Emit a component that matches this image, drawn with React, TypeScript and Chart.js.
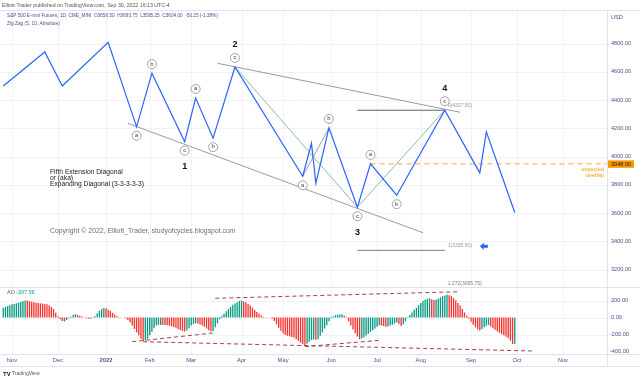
import React, { useEffect, useRef } from 'react';
import { Chart, registerables } from 'chart.js';

Chart.register(...registerables);

// ---------------- data ----------------
const MONTH_LABELS = ['Nov', 'Dec', '2022', 'Feb', 'Mar', 'Apr', 'May', 'Jun', 'Jul', 'Aug', 'Sep', 'Oct', 'Nov'];
const MONTH_BARS = [0, 21, 43, 63, 82, 105, 124, 146, 167, 187, 210, 231, 252];

const PRICE_TICKS = [4800, 4600, 4400, 4200, 4000, 3800, 3600, 3400, 3200];
const AO_TICKS = [200, 0, -200, -400];

// Zig Zag pivots (bar index since 1 Nov 2021, price)
const ZZ_BARS = [-4, 15, 23, 44, 57, 64, 79, 84, 92, 102, 133, 137, 139, 145, 158, 164, 176, 198, 214, 217, 230];
const ZZ_PRICES = [4499, 4740, 4499, 4808, 4210, 4590, 4105, 4414, 4130, 4634, 3860, 4094, 3810, 4203, 3641, 3948, 3726, 4327.5, 3884, 4174, 3604];
const ZZ_LETTERS = ['', '', '', '', 'a', 'b', 'c', 'a', 'b', 'c', 'a', '', '', 'b', 'c', 'a', 'b', 'c', '', '', ''];
const ZZ_WAVES = ['', '', '', '', '', '', '1', '', '', '2', '', '', '', '', '3', '', '', '4', '', '', ''];

// trend lines [bar, price]
const UPPER_LINE_BARS = [94, 205];
const UPPER_LINE_PRICES = [4660, 4313];
const LOWER_LINE_BARS = [53, 188];
const LOWER_LINE_PRICES = [4235, 3460];
const GREEN_BARS = [102, 158, 198];
const GREEN_PRICES = [4634, 3641, 4327.5];
const GRAY_AB_BARS = [133, 145];
const GRAY_AB_PRICES = [3860, 4203];

// Fib extension
const FIB_BARS = [158, 198];
const FIB_RATIOS = ['0', '1', '1.272'];
const FIB_PRICES = [4327.5, 3335.5, 3065.75];

const OVERLAP_LEVEL = 3948;
const OVERLAP_START_BAR = 164;

// Awesome Oscillator
const AO_START = -4;
const AO_VALUES = [
  115, 125, 135, 145, 155, 160, 168, 175, 182, 192, 200,
  196, 191, 185, 180, 174, 170, 167, 164, 160, 156,
  145, 125, 100, 55, 15, -20, -40, -47, -30, -10, 10, 28, 39,
  33, 22, 12, 2, -8, -13, -16, -5, 15, 50, 80, 100, 112,
  108, 95, 78, 55, 35, 15, 3, 4, 1,
  -8, -30, -55, -95, -135, -175, -210, -250, -275,
  -268, -250, -210, -170, -125, -95, -86,
  -88, -86, -88, -92, -97, -104, -112, -122, -134, -148, -160, -166,
  -150, -125, -95, -75, -67,
  -72, -82, -95, -110, -130, -150, -166,
  -160, -115, -70, -20, 20, 45, 75, 100, 125, 150, 165, 180, 195, 200,
  190, 178, 160, 140, 115, 90, 65, 45, 25, 8, 3, 2, 0,
  -15, -45, -80, -120, -155, -185, -205, -215, -222, -228, -235, -255, -275, -295, -315, -333,
  -310, -285, -265, -258, -262, -255, -215, -175, -130, -90, -45, -10, 15, 28, 33, 36, 38,
  22, -5, -45, -95, -140, -185, -225, -255,
  -248, -232, -212, -190, -170, -150, -130, -110, -92,
  -95, -100, -108, -105, -95, -85, -70, -60, -75, -100,
  -80, -45, -5, 30, 60, 90, 115, 145, 170, 195, 210, 222, 226,
  215, 205, 210, 225, 238, 250, 258, 267,
  262, 250, 228, 200, 170, 140, 100, 60, 20, -15, -50, -85, -115, -138, -153,
  -135, -115, -98, -90,
  -105, -125, -145, -165, -180, -195, -210, -225, -240, -270, -312, -307.56,
];

// AO divergence lines [bar, value]
const AO_LINES = [
  { bars: [55, 92], values: [-285, -182] },
  { bars: [60, 238], values: [-285, -394] },
  { bars: [134, 168], values: [-343, -268] },
  { bars: [93, 204], values: [226, 303] },
];

// ---------------- view constants ----------------
const X_MIN = -5.49;
const X_MAX = 272.19;
const P_MIN = 2601.8;
const P_MAX = 5030.1;
const AO_MIN = -429.4;
const AO_MAX = 3605.9;
const PANEL_SPLIT = 287;

const FONT = '"Liberation Sans", Arial, sans-serif';
const AXIS_COLOR = '#4a5090';
const GRID = '#f0f2f6';
const BORDER = '#e0e3eb';
const AO_GREEN = '#089981';
const AO_RED = '#f7302b';

function pts(bars: number[], vals: number[]) {
  return bars.map((b, i) => ({ x: b, y: vals[i] }));
}

function fitSize(ctx: CanvasRenderingContext2D, text: string, width: number, weight: string) {
  ctx.font = `${weight} 10px ${FONT}`;
  return (10 * width) / ctx.measureText(text).width;
}

function fitText(ctx: CanvasRenderingContext2D, text: string, x: number, y: number, width: number, weight: string, color: string) {
  const size = fitSize(ctx, text, width, weight);
  ctx.font = `${weight} ${size}px ${FONT}`;
  ctx.fillStyle = color;
  ctx.textAlign = 'left';
  ctx.textBaseline = 'middle';
  ctx.fillText(text, x, y);
}

const overlay = {
  id: 'overlay',
  beforeDraw(chart: any) {
    const { ctx } = chart;
    ctx.save();
    ctx.fillStyle = '#ffffff';
    ctx.fillRect(0, 0, chart.width, chart.height);
    ctx.restore();
  },
  beforeDatasetsDraw(chart: any) {
    const { ctx, chartArea, scales } = chart;
    const x = scales.x, y = scales.y, yAo = scales.yAo;
    ctx.save();
    ctx.lineWidth = 1;
    ctx.strokeStyle = GRID;
    MONTH_BARS.forEach((b) => {
      const px = Math.round(x.getPixelForValue(b)) + 0.5;
      ctx.beginPath();
      ctx.moveTo(px, chartArea.top);
      ctx.lineTo(px, chartArea.bottom);
      ctx.stroke();
    });
    PRICE_TICKS.forEach((p) => {
      const py = Math.round(y.getPixelForValue(p)) + 0.5;
      ctx.beginPath();
      ctx.moveTo(chartArea.left, py);
      ctx.lineTo(chartArea.right, py);
      ctx.stroke();
    });
    AO_TICKS.slice(0, 3).forEach((v) => {
      const py = Math.round(yAo.getPixelForValue(v)) + 0.5;
      ctx.beginPath();
      ctx.moveTo(chartArea.left, py);
      ctx.lineTo(chartArea.right, py);
      ctx.stroke();
    });
    ctx.restore();
  },
  afterDatasetsDraw(chart: any) {
    const { ctx, chartArea, scales } = chart;
    const x = scales.x, y = scales.y, yAo = scales.yAo;
    ctx.save();

    // frame / separators
    ctx.strokeStyle = BORDER;
    ctx.lineWidth = 1;
    const hline = (py: number, x0: number, x1: number) => {
      ctx.beginPath();
      ctx.moveTo(x0, py + 0.5);
      ctx.lineTo(x1, py + 0.5);
      ctx.stroke();
    };
    hline(chartArea.top - 1, 0, 640);
    hline(PANEL_SPLIT, 0, 640);
    hline(chartArea.bottom, 0, 640);
    hline(366, 0, 640);
    ctx.beginPath();
    ctx.moveTo(chartArea.right + 0.5, chartArea.top - 1);
    ctx.lineTo(chartArea.right + 0.5, 366);
    ctx.stroke();

    // fib labels
    ctx.font = `5px ${FONT}`;
    ctx.textAlign = 'left';
    ctx.textBaseline = 'middle';
    FIB_PRICES.forEach((p, i) => {
      ctx.fillStyle = i === 2 ? '#6f8f74' : '#9598a1';
      ctx.fillText(`${FIB_RATIOS[i]}(${p.toFixed(2)})`, x.getPixelForValue(FIB_BARS[1]) + 3, y.getPixelForValue(p) - 4.5);
    });

    // blue arrow next to the 1 level
    {
      const ax = x.getPixelForValue(FIB_BARS[1]) + 35;
      const ay = y.getPixelForValue(FIB_PRICES[1]) - 4;
      ctx.fillStyle = '#2962ff';
      ctx.beginPath();
      ctx.moveTo(ax, ay);
      ctx.lineTo(ax + 4, ay - 3.5);
      ctx.lineTo(ax + 4, ay - 1.5);
      ctx.lineTo(ax + 8, ay - 1.5);
      ctx.lineTo(ax + 8, ay + 1.5);
      ctx.lineTo(ax + 4, ay + 1.5);
      ctx.lineTo(ax + 4, ay + 3.5);
      ctx.closePath();
      ctx.fill();
    }

    // circled wave letters and wave numbers
    ZZ_BARS.forEach((b, i) => {
      const prev = ZZ_PRICES[i - 1] ?? ZZ_PRICES[i + 1];
      const isHigh = ZZ_PRICES[i] > prev;
      const px = x.getPixelForValue(b);
      const py = y.getPixelForValue(ZZ_PRICES[i]);
      if (ZZ_LETTERS[i]) {
        const cy = py + (isHigh ? -9 : 9);
        ctx.beginPath();
        ctx.arc(px, cy, 4.5, 0, Math.PI * 2);
        ctx.fillStyle = '#ffffff';
        ctx.fill();
        ctx.strokeStyle = '#8a8d96';
        ctx.lineWidth = 0.8;
        ctx.stroke();
        ctx.fillStyle = '#444';
        ctx.font = `6px ${FONT}`;
        ctx.textAlign = 'center';
        ctx.textBaseline = 'middle';
        ctx.fillText(ZZ_LETTERS[i], px, cy - 0.3);
      }
      if (ZZ_WAVES[i]) {
        ctx.fillStyle = '#111';
        ctx.font = `bold 9px ${FONT}`;
        ctx.textAlign = 'center';
        ctx.textBaseline = 'middle';
        ctx.fillText(ZZ_WAVES[i], px, py + (isHigh ? -22 : 25));
      }
    });

    // expected overlap
    const oy = y.getPixelForValue(OVERLAP_LEVEL);
    ctx.fillStyle = '#ff9800';
    ctx.font = `5.5px ${FONT}`;
    ctx.textAlign = 'right';
    ctx.textBaseline = 'middle';
    ctx.fillText('expected', chartArea.right - 3, oy + 6);
    ctx.fillText('overlap', chartArea.right - 3, oy + 12);

    // annotations
    const noteSize = fitSize(ctx, 'Expanding Diagonal (3-3-3-3-3)', 94, 'normal');
    ctx.font = `${noteSize}px ${FONT}`;
    ctx.fillStyle = '#1a1a1a';
    ctx.textAlign = 'left';
    ctx.textBaseline = 'middle';
    ctx.fillText('Fifth Extension Diagonal', 50, 172);
    ctx.fillText('or (aka)', 50, 178.2);
    ctx.fillText('Expanding Diagonal (3-3-3-3-3)', 50, 184.4);
    fitText(ctx, 'Copyright © 2022, Elliott_Trader, studyofcycles.blogspot.com', 50, 231, 186, 'normal', '#6d6f78');

    // header / legends
    fitText(ctx, 'Elliott-Trader published on TradingView.com, Sep 30, 2022 16:13 UTC-4', 2, 5.5, 168, 'normal', '#555');
    fitText(ctx, 'S&P 500 E-mini Futures, 1D, CME_MINI  O3656.50  H3693.75  L3595.25  C3604.00  -50.25 (-1.38%)', 7, 16, 211, 'normal', '#4a5090');
    fitText(ctx, 'Zig Zag (5, 10, Absolute)', 7, 24, 53, 'normal', '#4a5090');

    ctx.font = `5.5px ${FONT}`;
    ctx.textAlign = 'left';
    ctx.fillStyle = '#4a5090';
    ctx.fillText('AO', 7, 292.5);
    ctx.fillStyle = AO_GREEN;
    ctx.fillText(AO_VALUES[AO_VALUES.length - 1].toFixed(2), 16, 292.5);

    // right axis
    ctx.font = `5.6px ${FONT}`;
    ctx.fillStyle = AXIS_COLOR;
    ctx.textAlign = 'left';
    ctx.textBaseline = 'middle';
    ctx.fillText('USD', 611, 17);
    PRICE_TICKS.forEach((p) => ctx.fillText(p.toFixed(2), 611, y.getPixelForValue(p)));
    AO_TICKS.forEach((v) => ctx.fillText(v.toFixed(2), v < 0 ? 610 : 611, yAo.getPixelForValue(v)));

    // orange price tag
    ctx.fillStyle = '#ff9800';
    ctx.fillRect(chartArea.right + 1, oy - 3.5, 26, 7.5);
    ctx.fillStyle = '#1a1a1a';
    ctx.fillText(OVERLAP_LEVEL.toFixed(2), 611, oy + 0.3);

    // time axis
    ctx.textAlign = 'center';
    MONTH_BARS.forEach((b, i) => {
      ctx.font = MONTH_LABELS[i] === '2022' ? `bold 5.8px ${FONT}` : `5.8px ${FONT}`;
      ctx.fillStyle = AXIS_COLOR;
      ctx.fillText(MONTH_LABELS[i], x.getPixelForValue(b), 360);
    });

    // TradingView mark
    ctx.textAlign = 'left';
    ctx.fillStyle = '#131722';
    ctx.font = `bold 6px ${FONT}`;
    ctx.fillText('TV', 3, 374);
    ctx.fillStyle = '#555';
    ctx.font = `5px ${FONT}`;
    ctx.fillText('TradingView', 12, 374);

    ctx.restore();
  },
};

export default function App() {
  const ref = useRef<HTMLCanvasElement>(null);

  useEffect(() => {
    const canvas = ref.current;
    if (!canvas) return;

    const line = (data: any[], color: string, width = 1, extra: any = {}) => ({
      type: 'line',
      data,
      borderColor: color,
      borderWidth: width,
      pointRadius: 0,
      fill: false,
      tension: 0,
      xAxisID: 'x',
      yAxisID: 'y',
      ...extra,
    });

    const datasets: any[] = [
      {
        type: 'bar',
        data: AO_VALUES.map((v, k) => ({ x: AO_START + k, y: v })),
        xAxisID: 'x',
        yAxisID: 'yAo',
        backgroundColor: AO_VALUES.map((v, k) => (k === 0 || v >= AO_VALUES[k - 1] ? AO_GREEN : AO_RED)),
        barPercentage: 0.6,
        categoryPercentage: 1,
        order: 20,
      },
      ...AO_LINES.map((l) =>
        line(pts(l.bars, l.values), '#a3404c', 1, { yAxisID: 'yAo', borderDash: [4, 3], order: 15 })
      ),
      line(pts(UPPER_LINE_BARS, UPPER_LINE_PRICES), '#9a9ca5', 1, { order: 10 }),
      line(pts(LOWER_LINE_BARS, LOWER_LINE_PRICES), '#9a9ca5', 1, { order: 10 }),
      line(pts(GREEN_BARS, GREEN_PRICES), '#8cbf9a', 1, { order: 9 }),
      line(pts(GRAY_AB_BARS, GRAY_AB_PRICES), '#9e9e9e', 1, { order: 9 }),
      line(pts(FIB_BARS, [FIB_PRICES[0], FIB_PRICES[0]]), '#5d606b', 1, { order: 8 }),
      line(pts(FIB_BARS, [FIB_PRICES[1], FIB_PRICES[1]]), '#7c7f88', 1, { order: 8 }),
      line(pts([OVERLAP_START_BAR, X_MAX], [OVERLAP_LEVEL, OVERLAP_LEVEL]), '#ffa640', 1, { borderDash: [5, 4], order: 7 }),
      line(pts(ZZ_BARS, ZZ_PRICES), '#2962ff', 1.2, { order: 1 }),
    ];

    const chart = new Chart(canvas, {
      type: 'bar',
      data: { datasets },
      options: {
        animation: false,
        responsive: false,
        devicePixelRatio: 1,
        layout: { padding: { left: 0, right: 33, top: 11, bottom: 27 } },
        plugins: { legend: { display: false }, tooltip: { enabled: false } },
        scales: {
          x: { type: 'linear', min: X_MIN, max: X_MAX, offset: false, display: false, grid: { offset: false } },
          y: { type: 'linear', min: P_MIN, max: P_MAX, display: false },
          yAo: { type: 'linear', min: AO_MIN, max: AO_MAX, display: false },
        },
      } as any,
      plugins: [overlay],
    } as any);

    return () => chart.destroy();
  }, []);

  return (
    <div style={{ position: 'absolute', left: 0, top: 0, width: 640, height: 381, background: '#fff' }}>
      <canvas ref={ref} width={640} height={381} style={{ display: 'block', width: 640, height: 381 }} />
    </div>
  );
}
